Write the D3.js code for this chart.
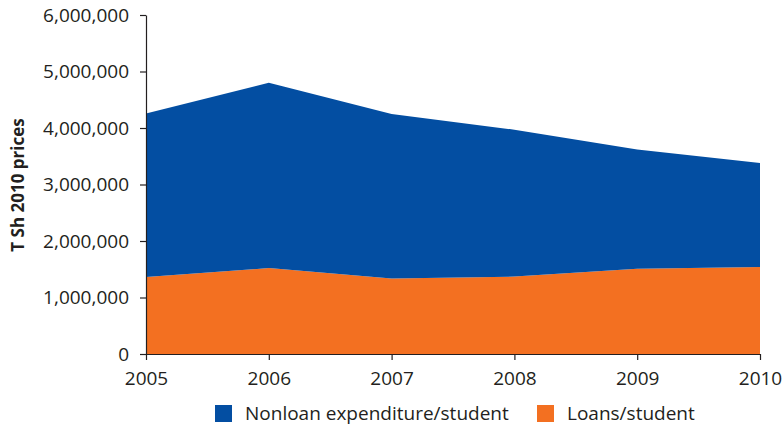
<!DOCTYPE html>
<html>
<head>
<meta charset="utf-8">
<script src="https://cdn.jsdelivr.net/npm/d3@7"></script>
<style>
  body { margin: 0; background: #fff; }
  svg { display: block; font-family: "Open Sans", sans-serif; }
</style>
</head>
<body>
<script>
// values (T Sh, 2010 prices)
const years = [2005, 2006, 2007, 2008, 2009, 2010];
const loans = [1365000, 1520000, 1335000, 1370000, 1510000, 1540000];
const nonloan = [2890000, 3280000, 2915000, 2600000, 2110000, 1840000];
const yTicks = [0, 1000000, 2000000, 3000000, 4000000, 5000000, 6000000];
const seriesNames = ["Nonloan expenditure/student", "Loans/student"];
const colors = {"Loans/student": "#f37021", "Nonloan expenditure/student": "#034ea2"};

let w = 784, h = 432;
let svg = d3.select("body").append("svg")
    .attr("width", w)
    .attr("height", h);

let x = d3.scaleLinear().domain([2005, 2010]).range([146, 760]);
let y = d3.scaleLinear().domain([0, 6000000]).range([354, 15]);

// build table for the stack
let rows = years.map((yr, i) => ({year: yr, "Loans/student": loans[i], "Nonloan expenditure/student": nonloan[i]}));
let stack = d3.stack().keys(["Loans/student", "Nonloan expenditure/student"]);
let layers = stack(rows);

let area = d3.area()
    .x(d => x(d.data.year))
    .y0(d => y(d[0]))
    .y1(d => y(d[1]));

svg.selectAll("path.layer")
    .data(layers)
    .enter()
    .append("path")
    .attr("class", "layer")
    .attr("d", area)
    .attr("fill", d => colors[d.key]);

// axes
let fmt = d3.format(",");
let yAxis = svg.append("g")
    .attr("transform", "translate(146,0)")
    .call(d3.axisLeft(y).tickValues(yTicks).tickFormat(fmt).tickSize(6).tickSizeOuter(0).tickPadding(11));

let xAxis = svg.append("g")
    .attr("transform", "translate(0,354)")
    .call(d3.axisBottom(x).tickValues(years).tickFormat(d3.format("d")).tickSize(6).tickSizeOuter(0).tickPadding(12));

svg.selectAll(".domain, .tick line").attr("stroke", "#231f20").attr("stroke-width", 1.2);
svg.selectAll(".tick text")
    .attr("fill", "#231f20")
    .style("font-size", "19px")
    .style("font-family", "'Open Sans', sans-serif");

// y axis title
svg.append("text")
    .attr("transform", "translate(24,185) rotate(-90)")
    .attr("text-anchor", "middle")
    .style("font-size", "17px")
    .style("font-weight", "bold")
    .attr("fill", "#231f20")
    .text("T Sh 2010 prices");

// legend
let legendX = [215, 537];
let legend = svg.selectAll("g.legend")
    .data(seriesNames)
    .enter()
    .append("g")
    .attr("class", "legend")
    .attr("transform", (d, i) => `translate(${legendX[i]},405)`);

legend.append("rect")
    .attr("width", 17)
    .attr("height", 17)
    .attr("fill", d => colors[d]);

legend.append("text")
    .attr("x", 30)
    .attr("y", 15)
    .style("font-size", "19px")
    .attr("fill", "#231f20")
    .text(d => d);
</script>
</body>
</html>
